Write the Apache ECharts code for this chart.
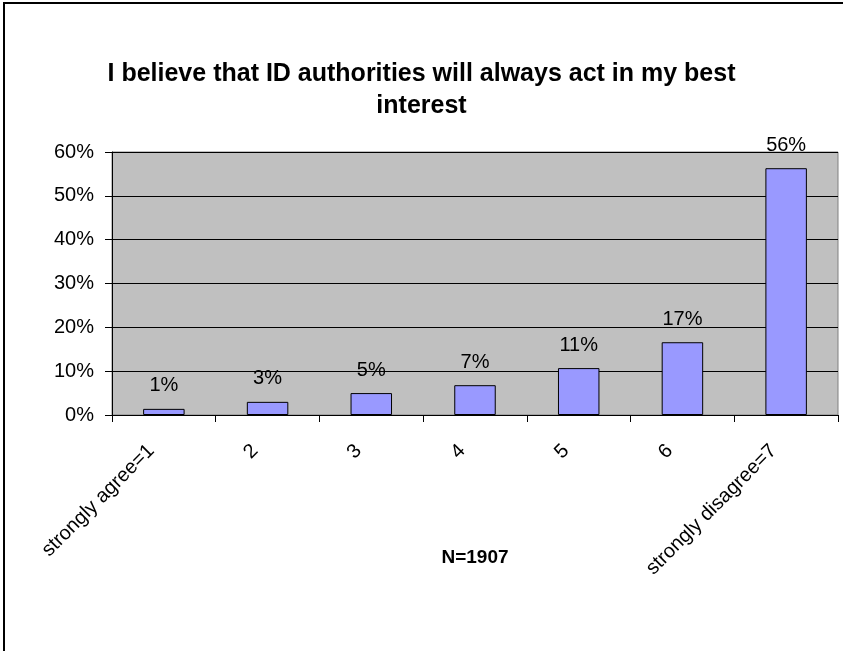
<!DOCTYPE html>
<html>
<head>
<meta charset="utf-8">
<script src="https://cdn.jsdelivr.net/npm/echarts@6/dist/echarts.min.js"></script>
<style>
html,body{margin:0;padding:0;background:#fff;}
#chart{width:843px;height:651px;}
</style>
</head>
<body>
<div id="chart"></div>
<script>
const titleText = 'I believe that ID authorities will always act in my best\ninterest';
const categories = ['strongly agree=1', '2', '3', '4', '5', '6', 'strongly disagree=7'];
const percentValues = [1.4, 3.0, 5.0, 6.8, 10.7, 16.6, 56.3];
const yTicks = [0, 10, 20, 30, 40, 50, 60];
const sampleLabel = 'N=1907';

const FONT = '"Liberation Sans", Arial, sans-serif';
const chart = echarts.init(document.getElementById('chart'), null, {renderer: 'canvas'});
chart.setOption({
  animation: false,
  backgroundColor: '#ffffff',
  title: {
    text: titleText,
    left: 'center',
    top: 53,
    textStyle: {fontFamily: FONT, fontWeight: 'bold', fontSize: 25, color: '#000', lineHeight: 32, align: 'center'}
  },
  graphic: [{
    type: 'rect',
    shape: {x: 4, y: 3, width: 900, height: 700},
    style: {fill: 'none', stroke: '#000', lineWidth: 2},
    silent: true,
    z: 100
  }, {
    type: 'text',
    x: 475,
    y: 558,
    style: {
      text: sampleLabel,
      align: 'center',
      verticalAlign: 'middle',
      font: 'bold 19px "Liberation Sans", Arial, sans-serif',
      fill: '#000'
    },
    silent: true
  }],
  grid: {
    left: 112, right: 5, top: 152, bottom: 236,
    show: true,
    backgroundColor: '#C0C0C0',
    borderColor: '#808080',
    borderWidth: 1
  },
  xAxis: {
    type: 'category',
    data: categories,
    axisLine: {show: true, lineStyle: {color: '#000', width: 1}},
    axisTick: {show: true, length: 7, alignWithLabel: false, lineStyle: {color: '#000'}},
    axisLabel: {
      interval: 0,
      rotate: 45,
      margin: 20,
      padding: [0, 18, 0, 0],
      fontFamily: FONT, fontSize: 20, color: '#000'
    },
    splitLine: {show: false}
  },
  yAxis: {
    type: 'value',
    min: yTicks[0],
    max: yTicks[yTicks.length - 1],
    interval: 10,
    axisLine: {show: true, lineStyle: {color: '#000', width: 1}},
    axisTick: {show: true, length: 7, inside: false, lineStyle: {color: '#000'}},
    axisLabel: {
      margin: 18,
      fontFamily: FONT, fontSize: 20, color: '#000',
      formatter: v => v + '%'
    },
    splitLine: {show: true, lineStyle: {color: '#000', width: 1}}
  },
  series: [{
    type: 'bar',
    data: percentValues,
    barCategoryGap: '60%',
    itemStyle: {color: '#9999FF', borderColor: '#000', borderWidth: 1},
    label: {
      show: true,
      position: 'top',
      distance: 13,
      fontFamily: FONT, fontSize: 20, color: '#000',
      formatter: p => Math.round(p.value) + '%'
    }
  }]
});
</script>
</body>
</html>
